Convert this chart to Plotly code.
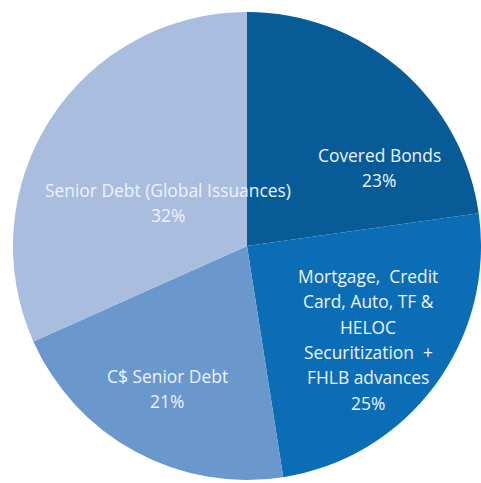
import plotly.graph_objects as go

# Funding mix by source (percent of total)
sources = [
    "Covered Bonds",
    "Mortgage, Credit Card, Auto, TF & HELOC Securitization + FHLB advances",
    "C$ Senior Debt",
    "Senior Debt (Global Issuances)",
]
shares = [23, 25, 21, 32]
label_lines = [
    ["Covered Bonds"],
    ["Mortgage,  Credit", "Card, Auto, TF &", "HELOC", "Securitization  +", "FHLB advances"],
    ["C$ Senior Debt"],
    ["Senior Debt (Global Issuances)"],
]
colors = ["#075c98", "#0b6db5", "#6a97cc", "#a9bddf"]

W, H = 481, 483
# label anchor: centre x and first-line y, in pixels
label_anchor = [(379, 155), (368, 276), (167, 376), (168, 190)]
line_step = 25.3

fig = go.Figure(
    go.Pie(
        labels=sources,
        values=shares,
        sort=False,
        direction="clockwise",
        rotation=0,
        marker=dict(colors=colors, line=dict(width=0)),
        textinfo="none",
        hoverinfo="skip",
        showlegend=False,
        domain=dict(x=[13 / W, 1.0], y=[1 - 480 / H, 1 - 12 / H]),
    )
)

font = dict(family="Open Sans, sans-serif", size=17.4, color="#eef3fa")
annotations = []
for lines, share, (cx, cy) in zip(label_lines, shares, label_anchor):
    for i, txt in enumerate(lines + [f"{share}%"]):
        annotations.append(
            dict(
                x=cx / W,
                y=1 - (cy + i * line_step) / H,
                xref="paper",
                yref="paper",
                text=txt,
                showarrow=False,
                xanchor="center",
                yanchor="middle",
                font=font,
            )
        )

fig.update_layout(
    width=W,
    height=H,
    margin=dict(l=0, r=0, t=0, b=0),
    paper_bgcolor="white",
    plot_bgcolor="white",
    annotations=annotations,
)

fig.write_html("out.html")
